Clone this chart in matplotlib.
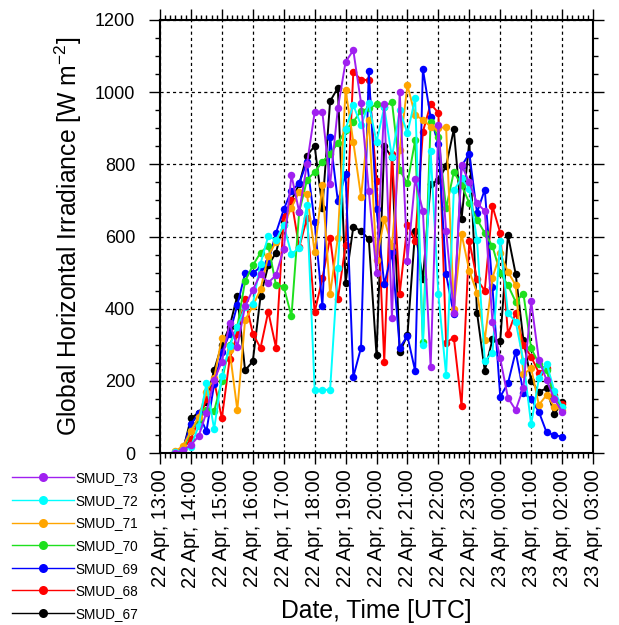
#!/usr/bin/env python3
# Global horizontal irradiance at the SMUD stations, 22-23 Apr

import datetime as dt
import matplotlib
matplotlib.use('Agg')  # No DISPLAY
import matplotlib.pyplot as plt
import matplotlib.dates as mdates
from matplotlib.lines import Line2D

plt.rcParams['font.family'] = ['Liberation Sans', 'DejaVu Sans']
plt.rcParams['mathtext.default'] = 'regular'

# 15-min samples, 22 Apr 13:30 UTC .. 23 Apr 02:00 UTC
start = dt.datetime(2013, 4, 22, 13, 30)
nsamp = 51

smud_73 = [0, 8, 22, 47, 112, 202, 253, 360, 295, 407,
           452, 496, 472, 493, 565, 770, 668, 800, 944, 944,
           745, 955, 1084, 1116, 970, 727, 500, 967, 374, 1001,
           533, 758, 671, 239, 908, 616, 388, 798, 750, 692,
           671, 363, 262, 153, 119, 181, 421, 258, 202, 149, 115]
smud_72 = [2, 8, 18, 75, 193, 66, 213, 296, 350, 404,
           413, 525, 601, 590, 632, 551, 569, 687, 175, 175,
           175, 512, 897, 964, 908, 969, 862, 958, 819, 950,
           886, 983, 299, 837, 440, 216, 728, 761, 733, 590,
           255, 278, 588, 387, 364, 255, 79, 207, 248, 172, 128]
smud_71 = [5, 20, 61, 100, 170, 207, 320, 285, 119, 368,
           407, 454, 546, 585, 632, 680, 724, 719, 556, 742,
           440, 597, 1007, 862, 710, 924, 535, 648, 573, 840,
           1019, 936, 924, 904, 900, 904, 400, 607, 505, 444,
           313, 486, 553, 502, 465, 218, 235, 133, 161, 128, 120]
smud_70 = [0, 10, 60, 95, 120, 116, 200, 300, 350, 476,
           520, 555, 575, 465, 461, 379, 668, 756, 779, 807,
           830, 858, 895, 918, 948, 955, 966, 960, 973, 784,
           747, 867, 308, 918, 876, 678, 779, 742, 693, 647,
           610, 573, 499, 465, 419, 442, 290, 248, 230, 152, 128]
smud_69 = [2, 15, 80, 110, 60, 190, 280, 330, 410, 498,
           499, 515, 530, 610, 675, 727, 747, 807, 639, 408,
           876, 698, 773, 211, 292, 1059, 675, 467, 556, 292,
           324, 227, 1064, 930, 856, 495, 384, 795, 830, 666,
           730, 459, 156, 193, 281, 167, 149, 114, 57, 50, 45]
smud_68 = [0, 10, 40, 90, 150, 200, 96, 260, 330, 427,
           331, 291, 392, 292, 655, 700, 570, 650, 390, 484,
           597, 426, 576, 1056, 1035, 1033, 754, 253, 830, 442,
           632, 588, 890, 967, 943, 306, 320, 130, 588, 481,
           450, 684, 610, 330, 389, 300, 267, 222, 235, 160, 135]
smud_67 = [0, 10, 96, 112, 140, 230, 300, 350, 436, 229,
           254, 434, 520, 555, 640, 700, 745, 824, 851, 680,
           975, 1012, 472, 627, 615, 593, 271, 850, 819, 279,
           327, 616, 481, 745, 756, 795, 897, 648, 864, 389,
           228, 315, 311, 604, 496, 313, 200, 170, 179, 107, 142]

names = ['SMUD_67', 'SMUD_68', 'SMUD_69', 'SMUD_70',
         'SMUD_71', 'SMUD_72', 'SMUD_73']
series = [smud_67, smud_68, smud_69, smud_70, smud_71, smud_72, smud_73]
colors = ['black', '#ff0000', '#0000ff', '#1ee01e',
          '#ffa500', '#00ffff', '#a020f0']

times = [start + dt.timedelta(minutes=15 * i) for i in range(nsamp)]

fig = plt.figure(figsize=(6.19, 6.25), dpi=100)
ax = fig.add_axes([0.2585, 0.2752, 0.6995, 0.6928])

for name, vals, col in zip(names, series, colors):
    ax.plot(times, vals, '-', color=col, lw=1.4, marker='o',
            markersize=5.4, markeredgewidth=0, label=name)

ax.set_xlim(dt.datetime(2013, 4, 22, 13, 0), dt.datetime(2013, 4, 23, 3, 0))
ax.set_ylim(0, 1200)

ax.xaxis.set_major_locator(mdates.HourLocator(interval=1))
ax.xaxis.set_minor_locator(mdates.MinuteLocator(byminute=[10, 20, 30, 40, 50]))
ax.xaxis.set_major_formatter(mdates.DateFormatter('%d %b, %H:%M'))
ax.set_yticks(range(0, 1201, 200))
ax.set_yticks(range(0, 1201, 50), minor=True)

ax.grid(True, which='major', color='black', lw=0.9, linestyle=(0, (2.5, 2.5)))
for s in ax.spines.values():
    s.set_linewidth(1.5)
ax.tick_params(which='both', direction='out', top=True, right=True, width=1.0)
ax.tick_params(which='major', length=8, pad=10)
ax.tick_params(which='minor', length=3.8)
ax.tick_params(axis='y', labelsize=13)
ax.tick_params(axis='x', which='major', pad=4, labelsize=14.4)
plt.setp(ax.get_xticklabels(), rotation=90)

ax.set_ylabel('Global Horizontal Irradiance [W m$^{-2}$]', fontsize=17.8,
              labelpad=8)
ax.set_xlabel('Date, Time [UTC]', fontsize=17.8, labelpad=8)

# legend sits outside, bottom-left, newest station on top
handles = [Line2D([], [], color=c, lw=1.0, marker='o', markersize=6.5,
                  markeredgewidth=0) for c in colors][::-1]
fig.legend(handles, names[::-1], loc='upper left',
           bbox_to_anchor=(0.02, 0.246), frameon=False, fontsize=9.8,
           handlelength=4.5, handletextpad=0.15, labelspacing=0.63,
           borderpad=0, borderaxespad=0)

fig.savefig('out.png', dpi=100)
